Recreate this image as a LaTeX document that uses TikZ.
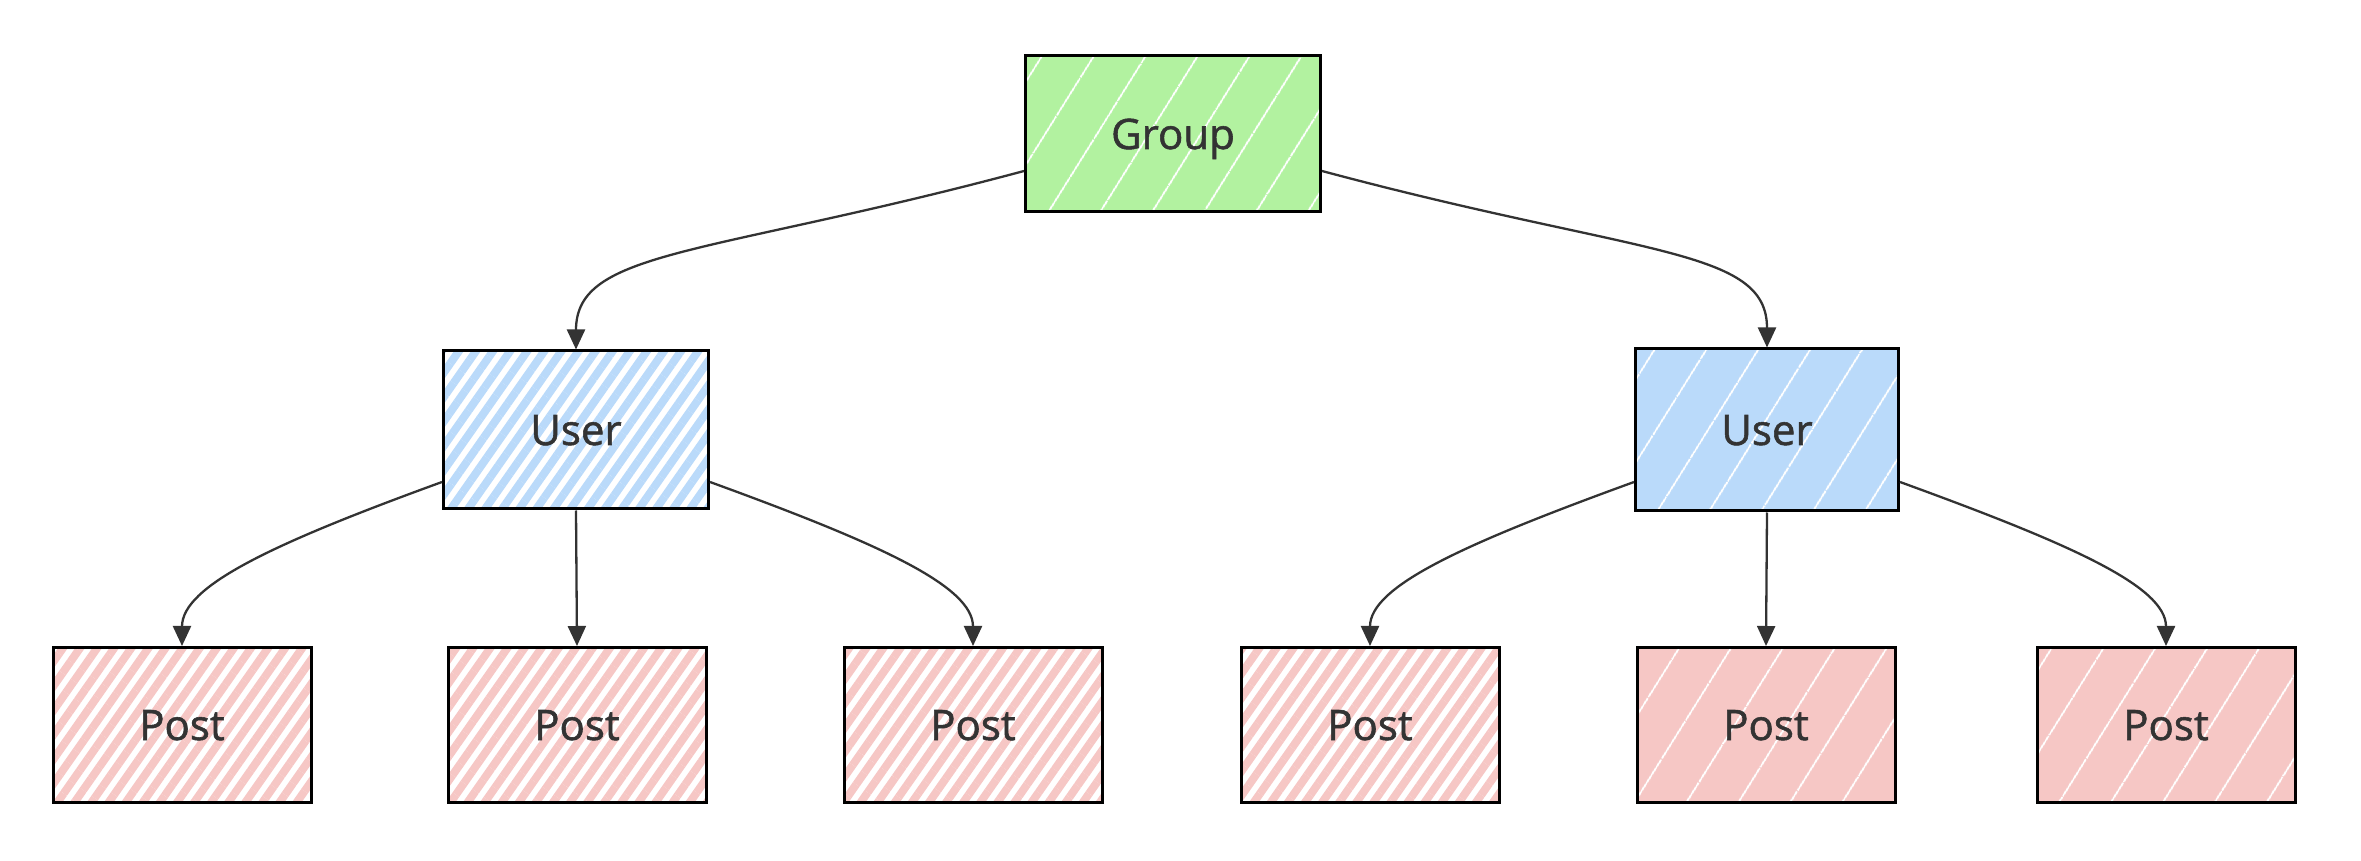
\documentclass[tikz,border=0pt]{standalone}
\usepackage{fontspec}
\setmainfont{Open Sans}
\newfontfamily\lblfont{Open Sans}[FakeBold=1.3]
\usetikzlibrary{arrows.meta,patterns.meta}
\definecolor{gfill}{RGB}{178,242,160}
\definecolor{bfill}{RGB}{186,218,250}
\definecolor{pfill}{RGB}{246,199,197}
\definecolor{txt}{RGB}{51,51,51}
\definecolor{edgec}{RGB}{51,51,51}
\begin{document}
\begin{tikzpicture}[x=1pt,y=1pt,
  box/.style={draw=black,line width=3pt,inner sep=0pt,
    font=\lblfont\fontsize{42}{50}\selectfont,text=txt,text height=30pt,text depth=0pt},
  dense/.style={preaction={fill=white},
    preaction={pattern={Lines[angle=55,distance=14pt,line width=8pt]},pattern color=#1}},
  solid/.style={preaction={fill=#1},
    preaction={pattern={Lines[angle=58,distance=45pt,line width=2pt]},pattern color=white}},
  postbox/.style={box,minimum width=258pt,minimum height=155pt},
  userbox/.style={box,minimum width=265pt,minimum height=158pt},
  edge/.style={draw=edgec,line width=2.3pt,-{Triangle[length=20pt,width=18pt]}}
]
\useasboundingbox (0,0) rectangle (2361,860);
\node[box,solid=gfill,minimum width=295pt,minimum height=156pt] (G) at (1173,726) {Group};
\node[userbox,dense=bfill] (UL) at (576,430) {User};
\node[userbox,solid=bfill,minimum width=263pt,minimum height=162pt] (UR) at (1767,430) {User};
\node[postbox,dense=pfill] (P1) at (182,135) {Post};
\node[postbox,dense=pfill] (P2) at (577,135) {Post};
\node[postbox,dense=pfill] (P3) at (973,135) {Post};
\node[postbox,dense=pfill] (P4) at (1370,135) {Post};
\node[postbox,solid=pfill] (P5) at (1766,135) {Post};
\node[postbox,solid=pfill] (P6) at (2166,135) {Post};

\draw[edge] ([yshift=-37pt]G.west) .. controls +(195:330) and +(90:100) .. (UL.north);
\draw[edge] ([yshift=-37pt]G.east) .. controls +(-15:330) and +(90:100) .. (UR.north);

\draw[edge] ([yshift=-52pt]UL.west) .. controls +(200:180) and +(90:60) .. (P1.north);
\draw[edge] (UL.south) -- (P2.north);
\draw[edge] ([yshift=-52pt]UL.east) .. controls +(-20:180) and +(90:60) .. (P3.north);

\draw[edge] ([yshift=-52pt]UR.west) .. controls +(200:180) and +(90:60) .. (P4.north);
\draw[edge] (UR.south) -- (P5.north);
\draw[edge] ([yshift=-52pt]UR.east) .. controls +(-20:180) and +(90:60) .. (P6.north);
\end{tikzpicture}
\end{document}
